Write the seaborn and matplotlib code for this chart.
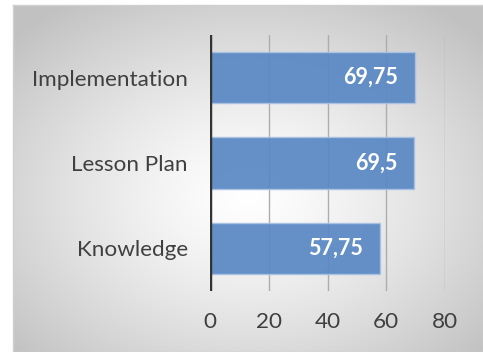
import numpy as np
import pandas as pd
import matplotlib
matplotlib.use("Agg")
import matplotlib.pyplot as plt
import seaborn as sns

categories = ["Implementation", "Lesson Plan", "Knowledge"]
values = [69.75, 69.5, 57.75]
value_labels = ["69,75", "69,5", "57,75"]
x_ticks = [0, 20, 40, 60, 80]

sns.set_theme(style="white")
plt.rcParams["font.family"] = ["Lato", "DejaVu Sans"]

W, H = 483, 352
fig = plt.figure(figsize=(W / 100, H / 100), dpi=100)
fig.patch.set_facecolor("white")

# chart-area background with radial gradient
bg = fig.add_axes([13 / W, 0, (W - 13) / W, (H - 5) / H])
bg.set_zorder(-5)
nx, ny = 400, 300
xx, yy = np.meshgrid(np.linspace(-1, 1, nx), np.linspace(-1, 1, ny))
r = np.sqrt(((xx - 0.0) / 1.0) ** 2 + ((yy + 0.1) / 1.0) ** 2)
r = np.clip(r / 1.35, 0, 1)
shade = 1.0 - 0.24 * r ** 1.3
img = np.dstack([shade, shade, shade])
bg.imshow(img, aspect="auto", extent=[0, 1, 0, 1], origin="lower")
bg.set_xlim(0, 1)
bg.set_ylim(0, 1)
bg.set_xticks([])
bg.set_yticks([])
for s in bg.spines.values():
    s.set_color("#D0D0D0")
    s.set_linewidth(1)

ax = fig.add_axes([210 / W, 1 - 291 / H, (445 - 210) / W, (291 - 35) / H])
ax.patch.set_alpha(0)

df = pd.DataFrame({"category": categories, "value": values})
sns.barplot(data=df, x="value", y="category", orient="h", ax=ax,
            color="#5A88C4", width=0.6, saturation=1, zorder=3)
for p in ax.patches:
    p.set_alpha(0.93)
    p.set_edgecolor("#A9C2E3")
    p.set_linewidth(1.0)

for i, (v, lab) in enumerate(zip(values, value_labels)):
    ax.annotate(lab, xy=(v, i), xytext=(-12, 0), textcoords="offset points",
                ha="right", va="center", color="white", fontsize=15.5,
                fontweight="bold", zorder=5)

ax.set_xlim(0, 80)
ax.set_ylim(2.5, -0.5)
ax.set_xticks(x_ticks)
ax.set_xticklabels([str(t) for t in x_ticks])
for t in x_ticks[1:]:
    ax.axvline(t, color="#ADADAD", linewidth=1.0, zorder=1)
ax.axvline(0, color="#333333", linewidth=3.2, zorder=6)

ax.set_xlabel("")
ax.set_ylabel("")
ax.tick_params(axis="both", length=0, labelsize=16.2, labelcolor="#404040")
ax.tick_params(axis="y", pad=16)
ax.tick_params(axis="x", pad=15)
for s in ax.spines.values():
    s.set_visible(False)

fig.savefig("out.png", dpi=100)
